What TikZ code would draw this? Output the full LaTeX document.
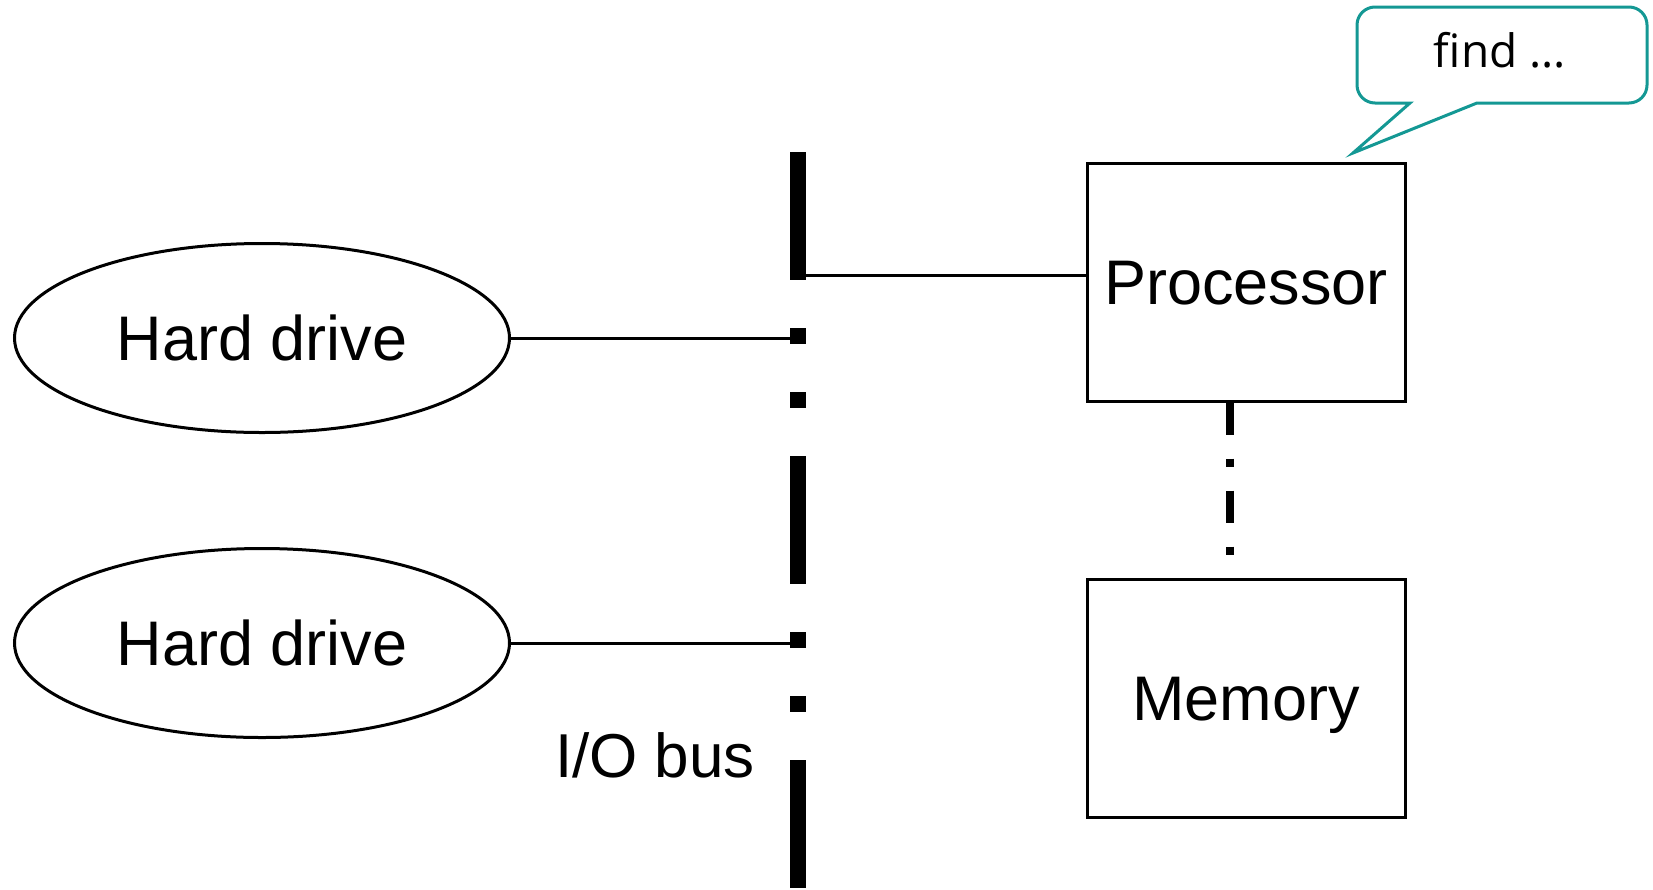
\documentclass[tikz,border=0pt]{standalone}
\usepackage{fontspec}
\setmainfont{Liberation Sans}
\newfontfamily\notefont{Open Sans}
\usetikzlibrary{shapes.geometric}
\definecolor{noteteal}{RGB}{20,152,148}
\tikzstyle{label}  = [font=\fontsize{63}{70}\selectfont, text height=45, text depth=0]
\tikzstyle{drive}  = [label, draw, ellipse, line width=3, minimum width=495, minimum height=189, inner sep=0]
\tikzstyle{unit}   = [label, draw, rectangle, line width=3, minimum width=318, minimum height=238, inner sep=0]
\tikzstyle{link}   = [line width=3]
\tikzstyle{iobus}  = [line width=16, dash pattern=on 128 off 48 on 16 off 48 on 16 off 48]
\tikzstyle{membus} = [line width=8, dash pattern=on 32 off 24 on 8 off 24]
\tikzstyle{note}   = [draw=noteteal, line width=3, fill=white]

\begin{document}
\begin{tikzpicture}[x=1pt,y=-1pt]
    \useasboundingbox (0,0) rectangle (1653,889); % page size in px
    \coordinate (bustop) at (798,152);
    \coordinate (busend) at (798,889);
    \draw[iobus] (bustop) -- (busend);
    \node[drive] (hd1) at (262,338) {Hard drive};
    \node[drive] (hd2) at (262,643) {Hard drive};
    \node[unit] (proc) at (1246,282) {Processor};
    \node[unit] (mem) at (1246,698) {Memory};
    \node[label, font=\fontsize{62}{70}\selectfont] (buslabel) at (655,755) {I/O bus};
    \foreach \hd in {hd1,hd2} {
      \draw[link] (\hd.east) -- (\hd.east -| bustop);
    }
    \coordinate (tap) at (798,275);
    \draw[link] (tap) -- (tap -| proc.west);
    \draw[membus] ([xshift=-16]proc.south) -- ([xshift=-16]mem.north);
    % speech bubble
    \coordinate (tip) at (1353,153);
    \draw[note] (tip) -- (1477,103) [rounded corners=18] -- (1647,103) -- (1647,7) -- (1357,7) -- (1357,103) [sharp corners] -- (1410,103) -- cycle;
    \node[font=\notefont\fontsize{46}{50}\selectfont] (findtext) at (1500,50) {find ...};
\end{tikzpicture}
\end{document}
